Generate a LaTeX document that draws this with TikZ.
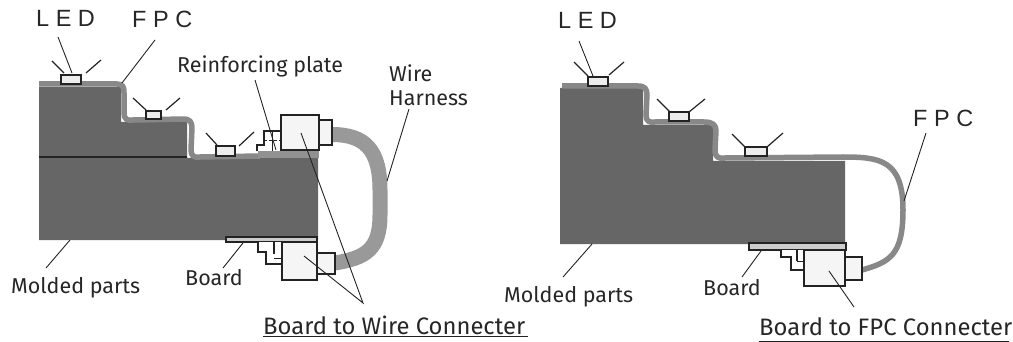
\documentclass[tikz,border=0pt]{standalone}
\usepackage{fontspec}
\setmainfont{Fira Sans}
\newfontfamily\ledfont{Liberation Sans}
\usetikzlibrary{positioning}
\definecolor{moldGray}{RGB}{102,102,102}
\definecolor{fpcGray}{RGB}{136,136,136}
\definecolor{wireGray}{RGB}{153,153,153}
\definecolor{plateGray}{RGB}{145,145,145}
\definecolor{boardGray}{RGB}{205,205,205}
\definecolor{lineDark}{RGB}{35,35,35}

\begin{document}
\begin{tikzpicture}[x=1pt, y=-1pt,
    molded/.style={fill=moldGray, draw=none},
    fpcband/.style={draw=fpcGray, line width=5.5pt, line join=round},
    wireband/.style={draw=wireGray, line width=15pt},
    ledbox/.style={draw=lineDark, line width=1.5pt, fill=black!7},
    connbox/.style={draw=lineDark, line width=1.5pt, fill=black!4},
    boardbox/.style={draw=lineDark, line width=1.5pt, fill=boardGray},
    ray/.style={draw=lineDark, line width=1.2pt},
    leader/.style={draw=lineDark, line width=0.9pt},
    label/.style={font=\fontsize{21.5}{24}\selectfont, text=black!85, inner sep=0pt, align=left},
    biglabel/.style={font=\fontsize{23.8}{26}\selectfont, text=black!85, inner sep=0pt},
    ledlabel/.style={font=\ledfont\fontsize{23.5}{26}\selectfont, text=black!85, inner sep=0pt}
]
\useasboundingbox (0,0) rectangle (1013,342);

% left part
\fill[molded] (39,87) -- (121,87) -- (121,122) -- (187,122) -- (187,158) -- (318,158) -- (318,240) -- (39,240) -- cycle;
\draw[lineDark, line width=2pt] (39,157) -- (187,157);
\draw[fpcband] (39,84) -- (117,84) .. controls (123,84) and (124,87) .. (124,93) -- (124,113) .. controls (124,119) and (127,121) .. (133,120) -- (183,119) .. controls (190,119) and (192,122) .. (192,128) -- (191,150) .. controls (191,156) and (194,158) .. (200,157) -- (260,156);
\draw[wireband] (332,134.5) .. controls (365,134.5) and (380,150) .. (380,190) -- (380,215) .. controls (380,250) and (365,258) .. (335,263);

\draw[fill=white, draw=lineDark, line width=1.5pt] (257,151) -- (257,145) -- (264,145) -- (264,131) -- (281,131) -- (281,151);
\draw[lineDark, line width=0.8pt] (272,131) -- (272,151);
\draw[lineDark, line width=0.8pt, densely dashed] (264,140) -- (281,140);
\fill[plateGray] (258,151) rectangle (319,158);
\node[connbox, minimum width=38pt, minimum height=35pt, inner sep=0pt] (topconn) at (300,132.5) {};
\node[connbox, minimum width=13pt, minimum height=25pt, inner sep=0pt] (topplug) at (325.5,132.5) {};

\node[boardbox, minimum width=91pt, minimum height=5pt, inner sep=0pt] (boardL) at (271.5,239.5) {};
\draw[fill=white, draw=lineDark, line width=1.5pt] (258,242) -- (258,252) -- (266,252) -- (266,264) -- (282,264) -- (282,242);
\draw[lineDark, line width=1.5pt] (274,242) -- (274,254);
\draw[lineDark, line width=0.8pt] (274,258) -- (282,258);
\node[connbox, minimum width=35pt, minimum height=38pt, inner sep=0pt] (botconn) at (299.5,261) {};
\node[connbox, minimum width=18pt, minimum height=21pt, inner sep=0pt] (botplug) at (326,263.5) {};

\foreach \nm/\xa/\ya/\xb/\yb in {ledA/61/75/81/84, ledB/146/111/161/119, ledC/216/146/235/156}
    \draw[ledbox] (\xa,\ya) rectangle (\xb,\yb);
\draw[ray] (52,61) -- (64,73);
\draw[ray] (101,60) -- (86,73);
\draw[ray] (133,98) -- (146,110);
\draw[ray] (180,98) -- (166,110);
\draw[ray] (206,133) -- (217,145);
\draw[ray] (254,132) -- (239,146);

\node[ledlabel, anchor=west] (ledL) at (36,18) {L E D};
\node[ledlabel, anchor=west] (fpcL) at (132,19) {F P C};
\node[label, anchor=west] (plateL) at (177,66) {Reinforcing plate};
\node[label, anchor=west] (wireL) at (389,85) {Wire\\Harness};
\node[label, anchor=west] (moldL) at (11,288) {Molded parts};
\node[label, anchor=west] (boardT) at (185,278) {Board};
\node[biglabel, anchor=west] (wireC) at (263,325) {Board to Wire Connecter};
\draw[lineDark, line width=1pt] (263,336) -- (528,336);

\draw[leader] (58,37) -- (72,73);
\draw[leader] (155,40) -- (122,83);
\draw[leader] (255,80) -- (276,150);
\draw[leader] (409,109) -- (387,181);
\draw[leader] (301,133) -- (363,303) -- (304,256);
\draw[leader] (243,243) -- (223,268);
\draw[leader] (70,240) -- (46,268);

% right part
\fill[molded] (560,88) -- (643,88) -- (643,125) -- (713,125) -- (713,161) -- (845,161) -- (845,244) -- (560,244) -- cycle;
\draw[fpcband] (562,86) -- (638,86) .. controls (645,86) and (647,89) .. (647,95) -- (646,115) .. controls (646,121) and (649,123) .. (655,122) -- (704,122) .. controls (713,122) and (716,125) .. (716,131) -- (715,150) .. controls (715,157) and (718,159) .. (725,158) -- (843,157) .. controls (880,157) and (903,160) .. (903,210) .. controls (903,255) and (890,262) .. (862,270);

\node[boardbox, minimum width=97pt, minimum height=7pt, inner sep=0pt] (boardR) at (797.5,246.5) {};
\draw[fill=white, draw=lineDark, line width=1.5pt] (781,250) -- (781,257) -- (791,257) -- (791,270) -- (804,270) -- (804,250);
\draw[lineDark, line width=1.5pt] (797,250) -- (797,261);
\draw[lineDark, line width=0.8pt] (797,261) -- (804,261);
\node[connbox, minimum width=41pt, minimum height=36pt, inner sep=0pt] (fpcconn) at (824.5,268) {};
\node[connbox, minimum width=17pt, minimum height=23pt, inner sep=0pt] (fpcplug) at (853.5,268.5) {};

\foreach \nm/\xa/\ya/\xb/\yb in {ledD/588/77/608/86, ledE/669/112/689/121, ledF/745/147/767/156}
    \draw[ledbox] (\xa,\ya) rectangle (\xb,\yb);
\draw[ray] (574,62) -- (588,76);
\draw[ray] (624,62) -- (609,75);
\draw[ray] (657,99) -- (670,112);
\draw[ray] (705,99) -- (689,112);
\draw[ray] (732,134) -- (745,147);
\draw[ray] (783,133) -- (767,147);

\node[ledlabel, anchor=west] (ledR) at (558,20) {L E D};
\node[ledlabel, anchor=west] (fpcR) at (913,118) {F P C};
\node[label, anchor=west] (moldR) at (504,297) {Molded parts};
\node[label, anchor=west] (boardU) at (703,288) {Board};
\node[biglabel, anchor=west] (fpcC) at (759,327) {Board to FPC Connecter};
\draw[lineDark, line width=1pt] (759,341) -- (1009,341);

\draw[leader] (579,41) -- (593,76);
\draw[leader] (926,133) -- (904,201);
\draw[leader] (761,251) -- (742,277);
\draw[leader] (829,271) -- (854,307);
\draw[leader] (592,244) -- (563,277);
\end{tikzpicture}
\end{document}
